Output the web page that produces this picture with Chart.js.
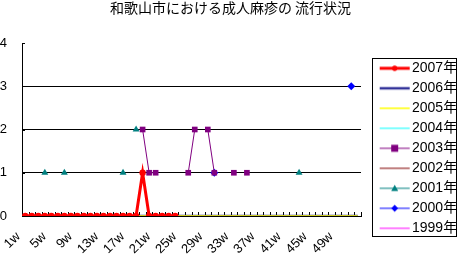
<!DOCTYPE html>
<html>
<head>
<meta charset="utf-8">
<script src="https://cdn.jsdelivr.net/npm/chart.js@4.4.0/dist/chart.umd.min.js"></script>
<style>
html,body{margin:0;padding:0;background:#ffffff;}
canvas{display:block;}
</style>
</head>
<body>
<canvas id="c" width="461" height="259"></canvas>
<script>
// ---- data ----
const weeks = ["1w","2w","3w","4w","5w","6w","7w","8w","9w","10w","11w","12w","13w","14w","15w","16w","17w","18w","19w","20w","21w","22w","23w","24w","25w","26w","27w","28w","29w","30w","31w","32w","33w","34w","35w","36w","37w","38w","39w","40w","41w","42w","43w","44w","45w","46w","47w","48w","49w","50w","51w","52w"];
const shownTickLabels = ["1w","5w","9w","13w","17w","21w","25w","29w","33w","37w","41w","45w","49w"];
const yTickValues = [0,1,2,3,4];

const s2007 = [0,0,0,0,0,0,0,0,0,0,0,0,0,0,0,0,0,0,1,0,0,0,0,0];
const s2006 = [0,0,0,0,0,0,0,0,0,0,0,0,0,0,0,0,0,0,0,0,0,0,0,0,0,0,0,0,0,0,0,0,0,0,0,0,0,0,0,0,0,0,0,0,0,0,0,0,0,0,0,0];
const s2005 = [0,0,0,0,0,0,0,0,0,0,0,0,0,0,0,0,0,0,0,0,0,0,0,0,0,0,0,0,0,0,0,0,0,0,0,0,0,0,0,0,0,0,0,0,0,0,0,0,0,0,0,0];
const s2004 = [];
const s2003 = [null,null,null,null,null,null,null,null,null,null,null,null,null,null,null,null,null,null,2,1,1,null,null,null,null,1,2,null,2,1,null,null,1,null,1];
const s2002 = [];
const s2001 = [null,null,null,1,null,null,1,null,null,null,null,null,null,null,null,1,null,2,null,null,null,null,null,null,null,null,null,null,null,null,null,null,null,null,null,null,null,null,null,null,null,null,1];
const s2000 = [null,null,null,null,null,null,null,null,null,null,null,null,null,null,null,null,null,null,null,null,null,null,null,null,null,null,null,null,null,1,null,null,null,null,null,null,null,null,null,null,null,null,null,null,null,null,null,null,null,null,3];
const s1999 = [];

const seriesNames = ["2007年","2006年","2005年","2004年","2003年","2002年","2001年","2000年","1999年"];
const FONT = "'Liberation Sans', 'Noto Sans CJK JP', sans-serif";

// legend sample images (line + marker)
function sample(color, lw, marker, r) {
  const c = document.createElement('canvas');
  c.width = 60; c.height = 14;
  const g = c.getContext('2d');
  g.strokeStyle = color; g.fillStyle = color; g.lineWidth = lw;
  g.beginPath(); g.moveTo(23.7, 7); g.lineTo(53.7, 7); g.stroke();
  const cx = 38.7, cy = 7;
  if (marker === 'circle') { g.beginPath(); g.arc(cx, cy, r, 0, Math.PI*2); g.fill(); }
  else if (marker === 'rect') { g.fillRect(cx - r, cy - r, 2*r, 2*r); }
  else if (marker === 'triangle') { g.beginPath(); g.moveTo(cx, cy - r); g.lineTo(cx + r, cy + r*0.8); g.lineTo(cx - r, cy + r*0.8); g.closePath(); g.fill(); }
  else if (marker === 'rectRot') { g.beginPath(); g.moveTo(cx, cy - r); g.lineTo(cx + r, cy); g.lineTo(cx, cy + r); g.lineTo(cx - r, cy); g.closePath(); g.fill(); }
  return c;
}

function ds(label, data, color, lw, pointStyle, radius, order) {
  return {
    label, data, borderColor: color, backgroundColor: color,
    borderWidth: lw, pointStyle: pointStyle || 'circle',
    pointRadius: radius || 0, pointHoverRadius: radius || 0,
    pointBorderWidth: 0, spanGaps: false, tension: 0, order,
    _legendImg: sample(color, lw, radius ? pointStyle : null, radius ? Math.max(2.5, radius - 0.5) : 0)
  };
}

const datasets = [
  ds(seriesNames[0], s2007, '#FF0000', 3, 'circle', 3.2, 0),
  ds(seriesNames[1], s2006, '#333399', 2.5, null, 0, 3),
  ds(seriesNames[2], s2005, '#FFFF00', 1.5, null, 0, 2),
  ds(seriesNames[3], s2004, '#00FFFF', 1, null, 0, 4),
  ds(seriesNames[4], s2003, '#800080', 1, 'rect', 4, 1),
  ds(seriesNames[5], s2002, '#800000', 1, null, 0, 5),
  ds(seriesNames[6], s2001, '#008080', 1, 'triangle', 4, 1),
  ds(seriesNames[7], s2000, '#0000FF', 1, 'rectRot', 4, 1),
  ds(seriesNames[8], s1999, '#FF00FF', 1, null, 0, 6)
];

const innerTicks = {
  id: 'innerTicks',
  beforeDatasetsDraw(chart) {
    const {ctx} = chart; const x = chart.scales.x, y = chart.scales.y;
    const half = (x.getPixelForValue(1) - x.getPixelForValue(0)) / 2;
    ctx.save();
    ctx.strokeStyle = '#000'; ctx.lineWidth = 1;
    ctx.beginPath();
    for (let i = 0; i <= weeks.length; i++) {
      const px = Math.round(x.getPixelForValue(i) - half) + 0.5;
      ctx.moveTo(px, y.bottom); ctx.lineTo(px, y.bottom - 4);
    }
    yTickValues.forEach(v => {
      const py = Math.round(y.getPixelForValue(v)) + 0.5;
      ctx.moveTo(x.left, py); ctx.lineTo(x.left + 3, py);
    });
    ctx.stroke();
    ctx.restore();
  }
};

const legendBox = {
  id: 'legendBox',
  afterDraw(chart) {
    const lg = chart.legend; const hb = lg.legendHitBoxes;
    if (!hb || !hb.length) return;
    const top = Math.min(...hb.map(h => h.top));
    const bottom = Math.max(...hb.map(h => h.top + h.height));
    const ctx = chart.ctx;
    ctx.save();
    ctx.strokeStyle = '#000'; ctx.lineWidth = 1;
    ctx.strokeRect(372.5, Math.round(top - 3) + 0.5, 84, Math.round(bottom - top + 4));
    ctx.restore();
  }
};

new Chart(document.getElementById('c'), {
  type: 'line',
  data: { labels: weeks, datasets },
  plugins: [innerTicks, legendBox],
  options: {
    responsive: false,
    animation: false,
    devicePixelRatio: 1,
    layout: { padding: { left: 0, right: 0, top: 0, bottom: 0 } },
    plugins: {
      tooltip: { enabled: false },
      title: {
        display: true,
        text: '和歌山市における成人麻疹の 流行状況',
        color: '#000',
        font: { family: "'Noto Sans CJK JP', sans-serif", size: 14, weight: 'normal', lineHeight: 1 },
        padding: { top: 0.5, bottom: 28.5 }
      },
      legend: {
        position: 'right',
        align: 'start',
        maxWidth: 100,
        title: { display: true, text: '', color: '#000', font: { size: 10, lineHeight: 1 }, padding: { top: 45.3, bottom: 0 } },
        labels: {
          usePointStyle: true,
          pointStyleWidth: 38,
          padding: 6,
          color: '#000',
          font: { family: FONT, size: 14 },
          generateLabels(chart) {
            return chart.data.datasets.map((d, i) => ({
              text: d.label, datasetIndex: i, pointStyle: d._legendImg,
              fillStyle: d.borderColor, strokeStyle: d.borderColor, lineWidth: 0,
              fontColor: '#000', hidden: false
            }));
          }
        }
      }
    },
    scales: {
      x: {
        type: 'category',
        offset: true,
        grid: { display: false, drawTicks: false },
        border: { display: true, color: '#000', width: 1 },
        afterFit(scale) { scale.height = 43; scale.paddingLeft = 0; scale.paddingRight = 0; },
        ticks: {
          autoSkip: false, maxRotation: 45, minRotation: 45,
          labelOffset: -7, padding: 13, color: '#000',
          font: { family: FONT, size: 13 },
          callback(v, i) { const l = weeks[i]; return shownTickLabels.includes(l) ? l : ''; }
        }
      },
      y: {
        min: 0, max: 4,
        afterFit(scale) { scale.width = 22; scale.paddingTop = 0; scale.paddingBottom = 0; },
        grid: {
          drawTicks: false,
          color: ctx => (ctx.tick && ctx.tick.value > 0 && ctx.tick.value < 4) ? '#000' : 'rgba(0,0,0,0)',
          lineWidth: 1
        },
        border: { display: true, color: '#000', width: 1 },
        ticks: {
          stepSize: 1, padding: 15, color: '#000',
          font: { family: FONT, size: 13 },
          callback(v) { return yTickValues.includes(v) ? String(v) : ''; }
        }
      }
    }
  }
});
</script>
</body>
</html>
